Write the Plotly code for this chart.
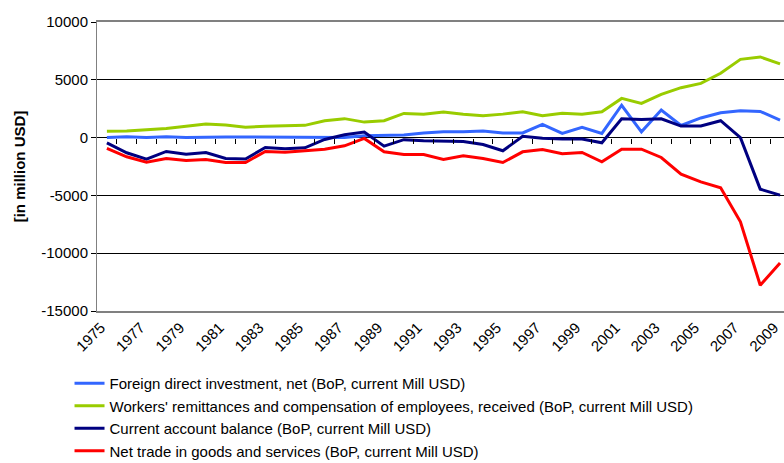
import plotly.graph_objects as go

#-------------------------------------------------------------------------------
# values, million USD, 1975-2009
years = list(range(1975, 2010))

fdi_net = [0, 80, 10, 70, 10, 60, 60, 60, 60, 60,
           60, 30, 0, 150, 200, 230, 400, 500, 500, 580,
           400, 400, 1150, 360, 880, 360, 2800, 500, 2380, 1050,
           1700, 2150, 2320, 2260, 1520]

remittances = [550, 580, 680, 780, 980, 1180, 1080, 900, 980, 1000,
               1060, 1450, 1640, 1340, 1460, 2090, 2010, 2210, 2010, 1890,
               2030, 2240, 1890, 2100, 2030, 2240, 3390, 2960, 3740, 4320,
               4690, 5560, 6770, 6980, 6370]

current_account = [-450, -1310, -1860, -1200, -1430, -1290, -1800, -1860, -850, -970,
                   -880, -160, 250, 480, -740, -180, -270, -300, -340, -600,
                   -1140, 120, -60, -120, -120, -450, 1630, 1570, 1630, 1000,
                   1000, 1460, 0, -4460, -4980]

net_trade = [-940, -1660, -2120, -1800, -1980, -1890, -2150, -2150, -1200, -1260,
             -1140, -1000, -710, -70, -1230, -1460, -1460, -1890, -1570, -1800,
             -2150, -1230, -1030, -1400, -1290, -2090, -1000, -1000, -1720, -3160,
             -3830, -4340, -7290, -12770, -10840]

series_names = ["Foreign direct investment, net (BoP, current Mill USD)",
                "Workers' remittances and compensation of employees, received (BoP, current Mill USD)",
                "Current account balance (BoP, current Mill USD)",
                "Net trade in goods and services (BoP, current Mill USD)"]
series_colors = ["#3366FF", "#99CC00", "#000080", "#FF0000"]

label_years = list(range(1975, 2010, 2))
y_ticks = [-15000, -10000, -5000, 0, 5000, 10000]
y_labels = ["-15000", "-10000", "-5000", "0", "5000", "10000"]
#-------------------------------------------------------------------------------
fig = go.Figure()
for vals, name, col in zip([fdi_net, remittances, current_account, net_trade],
                           series_names, series_colors):
    fig.add_trace(go.Scatter(x=years, y=vals, name=name, mode='lines',
                             line=dict(color=col, width=3)))

# helper trace so the category axis at y=0 (tick marks only) gets drawn
fig.add_trace(go.Scatter(x=[years[0], years[-1]], y=[0, 0], xaxis='x2', mode='lines',
                         line=dict(width=0), showlegend=False, hoverinfo='skip'))

font = "Liberation Sans, Arial, sans-serif"
xrange = [1974.5, 2009.2]

fig.update_layout(
    width=784, height=463,
    margin=dict(l=97, r=0, t=22, b=152),
    paper_bgcolor='white', plot_bgcolor='white',
    font=dict(family=font, size=15, color='black'),
    showlegend=True,
    # vertical position taken from the page so the legend does not squeeze the plot
    legend=dict(xref='paper', yref='container', x=-0.04, y=0.2073,
                xanchor='left', yanchor='top',
                font=dict(size=15), bgcolor='rgba(0,0,0,0)', tracegroupgap=0),
    xaxis=dict(range=xrange, tickmode='array', tickvals=label_years,
               tickangle=-45, ticks='', showgrid=False, zeroline=False,
               showline=True, linecolor='#808080', linewidth=2, mirror=True,
               tickfont=dict(size=15), ticklabelshift=-6, automargin=False,
               ticklabeloverflow='allow'),
    xaxis2=dict(range=xrange, overlaying='x', anchor='free', position=0.6,
                tickmode='array', tickvals=[y + 0.5 for y in years[:-1]],
                ticks='outside', ticklen=5, tickwidth=1, tickcolor='black',
                showticklabels=False, showgrid=False, zeroline=False,
                showline=False, automargin=False),
    yaxis=dict(range=[-15000, 10000], tickmode='array', tickvals=y_ticks,
               ticktext=y_labels,
               showgrid=True, gridcolor='black', gridwidth=1, zeroline=False,
               ticks='outside', ticklen=5, tickcolor='black',
               showline=True, linecolor='#808080', linewidth=1,
               tickfont=dict(size=15), automargin=False,
               title=dict(text='<b>[in million USD]</b>', font=dict(size=15), standoff=12)),
)
#-------------------------------------------------------------------------------
# drop the default page margin so the 784x463 figure fills the window exactly
fig.write_html("out.html", config={'displayModeBar': False},
               post_script="document.body.style.margin='0';document.body.style.overflow='hidden';")
